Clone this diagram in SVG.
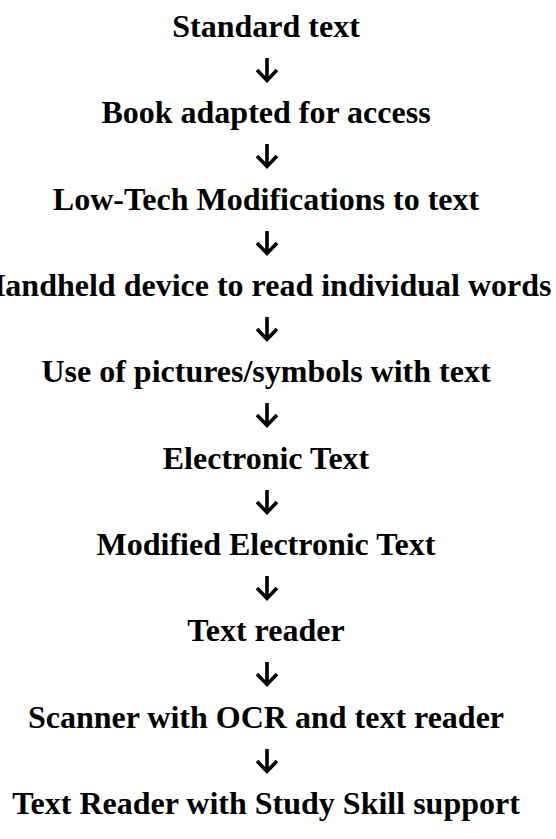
<svg xmlns="http://www.w3.org/2000/svg" xmlns:xlink="http://www.w3.org/1999/xlink" width="556" height="839" viewBox="0 0 556 839">
<style>
text{font-family:"Liberation Serif","Times New Roman",serif;font-weight:bold;font-size:32px;fill:#000;text-anchor:middle}
.arr{fill:none;stroke:#000;stroke-width:3.6}
</style>
<defs>
<g id="arrow"><path class="arr" d="M0,-12 V10 M-10,0 L0,10.5 L10,0"/></g>
</defs>
<rect width="556" height="839" fill="#fff"/>
<g id="n1"><text x="266" y="37">Standard text</text></g>
<g id="n2"><text x="266" y="123">Book adapted for access</text></g>
<g id="n3"><text x="266" y="210">Low-Tech Modifications to text</text></g>
<g id="n4"><text x="266" y="296">Handheld device to read individual words</text></g>
<g id="n5"><text x="266" y="382">Use of pictures/symbols with text</text></g>
<g id="n6"><text x="266" y="469">Electronic Text</text></g>
<g id="n7"><text x="266" y="555">Modified Electronic Text</text></g>
<g id="n8"><text x="266" y="641">Text reader</text></g>
<g id="n9"><text x="266" y="728">Scanner with OCR and text reader</text></g>
<g id="n10"><text x="266" y="814">Text Reader with Study Skill support</text></g>
<g id="connectors">
<use xlink:href="#arrow" x="267" y="70"/>
<use xlink:href="#arrow" x="267" y="156"/>
<use xlink:href="#arrow" x="267" y="243"/>
<use xlink:href="#arrow" x="267" y="329"/>
<use xlink:href="#arrow" x="267" y="415"/>
<use xlink:href="#arrow" x="267" y="502"/>
<use xlink:href="#arrow" x="267" y="588"/>
<use xlink:href="#arrow" x="267" y="674"/>
<use xlink:href="#arrow" x="267" y="761"/>
</g>
</svg>
